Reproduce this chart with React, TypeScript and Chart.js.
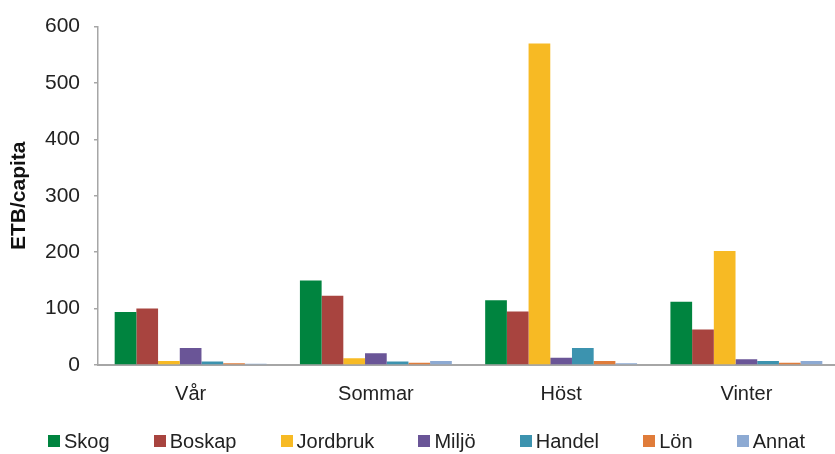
import React, { useEffect, useRef } from "react";
import { Chart, registerables } from "chart.js";

Chart.register(...registerables);

const categories = ["Vår", "Sommar", "Höst", "Vinter"];
const seriesNames = ["Skog", "Boskap", "Jordbruk", "Miljö", "Handel", "Lön", "Annat"];
const skog = [94, 150, 115, 112];
const boskap = [100, 123, 95, 63];
const jordbruk = [7, 12, 570, 202];
const miljo = [30, 21, 13, 10];
const handel = [6, 6, 30, 7];
const lon = [3, 4, 7, 4];
const annat = [2, 7, 3, 7];
const seriesValues = [skog, boskap, jordbruk, miljo, handel, lon, annat];
const seriesColors = ["#00843f", "#a8443f", "#f7ba24", "#6a5597", "#3c93af", "#e07c3a", "#8daad3"];
const yTicks = [0, 100, 200, 300, 400, 500, 600];

const FONT = "'Liberation Sans', Arial, Helvetica, sans-serif";

export default function App() {
  const ref = useRef<HTMLCanvasElement | null>(null);

  useEffect(() => {
    if (!ref.current) return;
    const chart = new Chart(ref.current, {
      type: "bar",
      data: {
        labels: categories,
        datasets: seriesNames.map((name, i) => ({
          label: name,
          data: seriesValues[i],
          backgroundColor: seriesColors[i],
          borderWidth: 0,
          categoryPercentage: 0.82,
          barPercentage: 1,
        })),
      },
      options: {
        responsive: false,
        animation: false,
        devicePixelRatio: 1,
        layout: { padding: { top: 21, right: 6, bottom: 33, left: 0 } },
        plugins: {
          tooltip: { enabled: false },
          legend: { display: false },
        },
        scales: {
          x: {
            grid: { display: false, drawTicks: false },
            border: { display: true, color: "#a6a6a6", width: 2 },
            ticks: { color: "#222", font: { family: FONT, size: 20 }, padding: 17 },
            afterFit: (s: any) => {
              s.height = 56;
            },
          },
          y: {
            min: 0,
            max: 600,
            afterBuildTicks: (s: any) => {
              s.ticks = yTicks.map((v) => ({ value: v }));
            },
            grid: {
              display: true,
              drawOnChartArea: false,
              drawTicks: true,
              tickLength: 4,
              color: "#a6a6a6",
              lineWidth: 1.5,
            },
            border: { display: true, color: "#a6a6a6", width: 1.5 },
            ticks: { color: "#222", font: { family: FONT, size: 21 }, padding: 14 },
            title: {
              display: true,
              text: "ETB/capita",
              color: "#111",
              font: { family: FONT, size: 21, weight: "bold" },
              padding: { top: 7, bottom: 0 },
            },
            afterFit: (s: any) => {
              s.width = 98;
            },
          },
        },
      },
    });
    return () => chart.destroy();
  }, []);

  return (
    <div
      style={{
        position: "fixed",
        left: 0,
        top: 0,
        width: 835,
        height: 454,
        overflow: "hidden",
        background: "#fff",
      }}
    >
      <canvas ref={ref} width={845} height={454} style={{ width: 845, height: 454, display: "block" }} />
      <div
        style={{
          position: "absolute",
          left: 48,
          width: 757,
          top: 430,
          height: 22,
          display: "flex",
          justifyContent: "space-between",
          alignItems: "center",
          fontFamily: FONT,
          fontSize: 20,
          lineHeight: "22px",
          color: "#222",
        }}
      >
        {seriesNames.map((name, i) => (
          <div key={name} style={{ display: "flex", alignItems: "center" }}>
            <span
              style={{
                display: "inline-block",
                width: 12,
                height: 12,
                background: seriesColors[i],
                marginRight: 4,
              }}
            />
            <span>{name}</span>
          </div>
        ))}
      </div>
    </div>
  );
}
